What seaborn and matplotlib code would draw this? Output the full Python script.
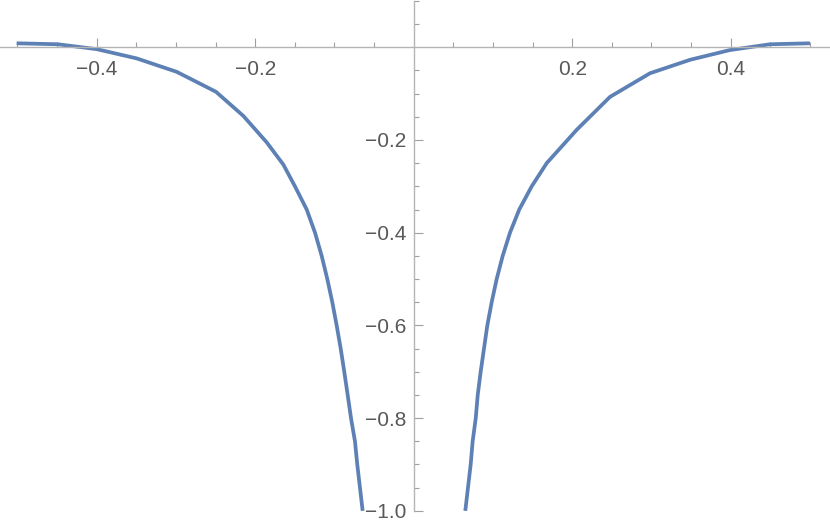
import numpy as np
import pandas as pd
import seaborn as sns
import matplotlib
matplotlib.use("Agg")
import matplotlib.pyplot as plt
from matplotlib.ticker import FixedLocator

# values
left_x = [-0.501, -0.449, -0.400, -0.3495, -0.299, -0.2495, -0.215, -0.1855,
          -0.1645, -0.1498, -0.135, -0.1245, -0.1161, -0.109, -0.1027, -0.0972,
          -0.0921, -0.0876, -0.0833, -0.0791, -0.0741, -0.0712, -0.0678, -0.0644]
left_y = [0.0086, 0.0065, -0.004, -0.024, -0.053, -0.096, -0.148, -0.205,
          -0.253, -0.30, -0.35, -0.40, -0.45, -0.50, -0.55, -0.60,
          -0.65, -0.70, -0.75, -0.80, -0.85, -0.90, -0.95, -1.0]

right_x = [0.0651, 0.0685, 0.0719, 0.0744, 0.0783, 0.0808, 0.0845, 0.0887,
           0.0929, 0.0984, 0.1047, 0.1123, 0.1215, 0.1332, 0.1489, 0.1678,
           0.2057, 0.2477, 0.2982, 0.3487, 0.399, 0.4496, 0.500]
right_y = [-1.0, -0.95, -0.90, -0.85, -0.80, -0.75, -0.70, -0.65,
           -0.60, -0.55, -0.50, -0.45, -0.40, -0.35, -0.30, -0.25,
           -0.178, -0.107, -0.056, -0.027, -0.006, 0.0065, 0.0086]

xticks = [-0.4, -0.2, 0.2, 0.4]
xtick_labels = ["\u22120.4", "\u22120.2", "0.2", "0.4"]
yticks = [-1.0, -0.8, -0.6, -0.4, -0.2]
ytick_labels = ["\u22121.0", "\u22120.8", "\u22120.6", "\u22120.4", "\u22120.2"]

sns.set_style("white")
plt.rcParams['font.family'] = ['Liberation Sans', 'DejaVu Sans']

line_col = '#5E81B5'
axis_col = '#b4b4b4'
tick_col = '#a0a0a0'
text_col = '#595959'

fig = plt.figure(figsize=(8.3, 5.28), dpi=100)
ax = fig.add_axes([0, 0, 1, 1])

left = pd.DataFrame({'x': left_x, 'y': left_y})
right = pd.DataFrame({'x': right_x, 'y': right_y})
for df in (left, right):
    sns.lineplot(data=df, x='x', y='y', ax=ax, color=line_col, linewidth=2.7,
                 sort=False, estimator=None, solid_capstyle='butt',
                 solid_joinstyle='round')

ax.set_xlim(-0.522, 0.5253)
ax.set_ylim(-1.037, 0.102)
ax.set_xlabel('')
ax.set_ylabel('')

for s in ['top', 'right']:
    ax.spines[s].set_visible(False)
ax.spines['left'].set_position(('data', 0))
ax.spines['bottom'].set_position(('data', 0))
ax.spines['left'].set_bounds(-1.0, 0.1)
for s in ['left', 'bottom']:
    ax.spines[s].set_color(axis_col)
    ax.spines[s].set_linewidth(1.0)

ax.xaxis.set_major_locator(FixedLocator(xticks))
ax.set_xticklabels(xtick_labels)
ax.xaxis.set_minor_locator(FixedLocator(
    [v for v in np.arange(-0.5, 0.51, 0.05) if abs(v) > 1e-9]))
ax.yaxis.set_major_locator(FixedLocator(yticks))
ax.set_yticklabels(ytick_labels)
ax.yaxis.set_minor_locator(FixedLocator(
    [v for v in np.arange(-1.0, 0.11, 0.05) if abs(v) > 1e-9]))

ax.tick_params(which='both', bottom=True, left=True, top=False, right=False)
ax.tick_params(axis='x', which='major', direction='in', length=6.5, width=0.8,
               color=tick_col, labelcolor=text_col, labelsize=15, pad=9)
ax.tick_params(axis='y', which='major', direction='in', length=6.5, width=0.8,
               color=tick_col, labelcolor=text_col, labelsize=15, pad=5.5)
ax.tick_params(which='minor', direction='in', length=3.8, width=0.8,
               color=tick_col)
ax.set_facecolor('white')

fig.savefig('out.png', dpi=100, facecolor='white')
